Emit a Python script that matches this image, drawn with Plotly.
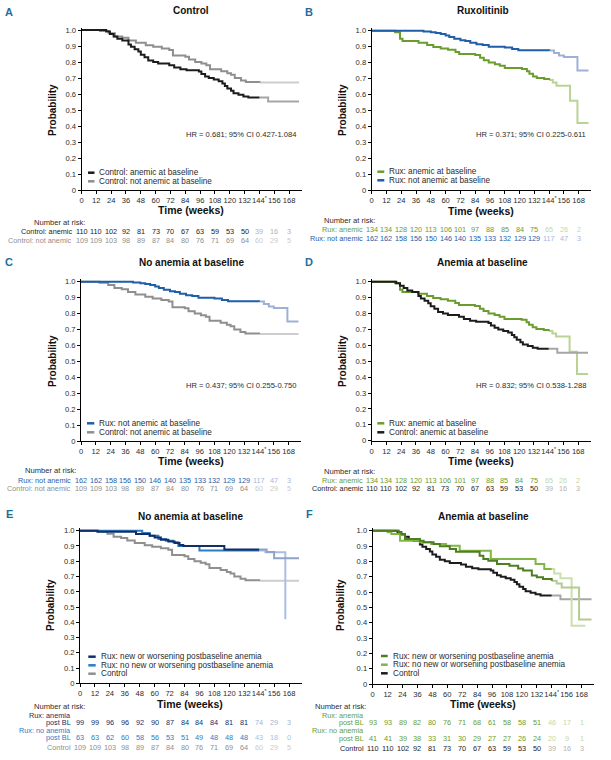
import plotly.graph_objects as go

W, H = 611, 760

# ---------------- data ----------------
tick_weeks = [0, 12, 24, 36, 48, 60, 72, 84, 96, 108, 120, 132, 144, 156, 168]
tick_week_labels = ["0", "12", "24", "36", "48", "60", "72", "84", "96", "108", "120",
                    "132", "144<sup>*</sup>", "156", "168"]
prob_ticks = [0, 0.1, 0.2, 0.3, 0.4, 0.5, 0.6, 0.7, 0.8, 0.9, 1.0]
prob_labels = ["0", "0.1", "0.2", "0.3", "0.4", "0.5", "0.6", "0.7", "0.8", "0.9", "1.0"]

# Control: anemic at baseline
ctrl_anemic_wk = [0, 20, 23, 26, 29, 33, 38, 40, 43, 46, 48, 51, 54, 58, 62, 71, 75, 80, 85, 95,
                  97, 100, 103, 107, 111, 114, 116, 118, 121, 123, 127, 131, 135, 144]
ctrl_anemic_p = [1.0, 0.99, 0.975, 0.96, 0.945, 0.935, 0.91, 0.895, 0.88, 0.865, 0.845, 0.83, 0.81,
                 0.80, 0.79, 0.78, 0.765, 0.755, 0.748, 0.74, 0.725, 0.71, 0.70, 0.69, 0.68, 0.665,
                 0.65, 0.635, 0.62, 0.605, 0.595, 0.585, 0.578, 0.578]
ctrl_anemic_late_wk = [144, 151, 176]
ctrl_anemic_late_p = [0.578, 0.553, 0.553]

# Control: not anemic at baseline
ctrl_not_wk = [0, 15, 22, 27, 33, 38, 44, 52, 58, 65, 71, 74, 84, 87, 92, 97, 101, 104, 113, 118,
               121, 124, 129, 133, 144]
ctrl_not_p = [1.0, 0.994, 0.98, 0.96, 0.952, 0.935, 0.92, 0.905, 0.895, 0.885, 0.875, 0.84, 0.833,
              0.815, 0.80, 0.79, 0.78, 0.755, 0.742, 0.73, 0.72, 0.70, 0.685, 0.675, 0.672]
ctrl_not_late_wk = [144, 176]
ctrl_not_late_p = [0.672, 0.672]

# Rux: anemic at baseline
rux_anemic_wk = [0, 19, 23, 25, 38, 45, 50, 56, 62, 68, 71, 84, 88, 91, 95, 100, 104, 108, 122,
                 126, 128, 131, 134, 140, 144]
rux_anemic_p = [1.0, 0.99, 0.95, 0.935, 0.925, 0.91, 0.897, 0.889, 0.88, 0.866, 0.853, 0.847, 0.83,
                0.815, 0.80, 0.79, 0.78, 0.766, 0.76, 0.745, 0.73, 0.713, 0.703, 0.697, 0.69]
rux_anemic_late_wk = [144, 147, 150, 161, 167, 176]
rux_anemic_late_p = [0.69, 0.675, 0.655, 0.56, 0.42, 0.42]

# Rux: not anemic at baseline
rux_not_wk = [0, 42, 48, 52, 56, 60, 63, 67, 72, 76, 80, 85, 90, 95, 108, 114, 119, 144]
rux_not_p = [1.0, 0.995, 0.99, 0.985, 0.98, 0.97, 0.96, 0.95, 0.94, 0.935, 0.925, 0.915, 0.91,
             0.90, 0.895, 0.885, 0.878, 0.875]
rux_not_late_wk = [144, 148, 152, 156, 167, 176]
rux_not_late_p = [0.875, 0.86, 0.845, 0.835, 0.75, 0.75]

# E: no anemia at baseline, split by postbaseline anemia
e_anemia_wk = [0, 14, 45, 56, 60, 65, 71, 76, 80, 83, 116, 144]
e_anemia_p = [1.0, 0.993, 0.978, 0.967, 0.956, 0.94, 0.93, 0.92, 0.906, 0.90, 0.876, 0.876]
e_anemia_late_wk = [144, 150, 156, 176]
e_anemia_late_p = [0.876, 0.86, 0.82, 0.82]

e_noanemia_wk = [0, 50, 56, 63, 69, 75, 79, 96, 144]
e_noanemia_p = [1.0, 0.985, 0.967, 0.945, 0.934, 0.924, 0.90, 0.87, 0.87]
e_noanemia_late_wk = [144, 149, 165]
e_noanemia_late_p = [0.87, 0.858, 0.42]

# F: anemia at baseline, split by postbaseline anemia
f_anemia_wk = [0, 21, 23, 26, 38, 41, 49, 54, 62, 67, 86, 89, 93, 100, 110, 117, 121, 128, 132,
               137, 144]
f_anemia_p = [1.0, 0.99, 0.978, 0.946, 0.935, 0.924, 0.913, 0.898, 0.88, 0.863, 0.837, 0.815,
              0.804, 0.783, 0.772, 0.754, 0.74, 0.707, 0.696, 0.685, 0.674]
f_anemia_late_wk = [144, 148, 152, 166, 176]
f_anemia_late_p = [0.674, 0.655, 0.63, 0.42, 0.42]

f_noanemia_wk = [0, 12, 15, 22, 38, 47, 59, 70, 89, 95, 129, 131, 138, 144]
f_noanemia_p = [1.0, 0.99, 0.978, 0.935, 0.925, 0.913, 0.902, 0.87, 0.87, 0.815, 0.815, 0.783,
                0.75, 0.75]
f_noanemia_late_wk = [144, 146, 151, 160, 171]
f_noanemia_late_p = [0.75, 0.72, 0.69, 0.38, 0.38]

# Numbers at risk
n_ctrl_anemic = [110, 110, 102, 92, 81, 73, 70, 67, 63, 59, 53, 50, 39, 16, 3]
n_ctrl_not = [109, 109, 103, 98, 89, 87, 84, 80, 76, 71, 69, 64, 60, 29, 5]
n_rux_anemic = [134, 134, 128, 120, 113, 106, 101, 97, 88, 85, 84, 75, 65, 26, 2]
n_rux_not = [162, 162, 158, 156, 150, 146, 140, 135, 133, 132, 129, 129, 117, 47, 3]
n_e_anemia = [99, 99, 96, 96, 92, 90, 87, 84, 84, 84, 81, 81, 74, 29, 3]
n_e_noanemia = [63, 63, 62, 60, 58, 56, 53, 51, 49, 48, 48, 48, 43, 18, 0]
n_f_anemia = [93, 93, 89, 82, 80, 76, 71, 68, 61, 58, 58, 51, 46, 17, 1]
n_f_noanemia = [41, 41, 39, 38, 33, 31, 30, 29, 27, 27, 26, 24, 20, 9, 1]

hr_A = "HR = 0.681; 95% CI 0.427-1.084"
hr_B = "HR = 0.371; 95% CI 0.225-0.611"
hr_C = "HR = 0.437; 95% CI 0.255-0.750"
hr_D = "HR = 0.832; 95% CI 0.538-1.288"

# ---------------- styles ----------------
BLACK, BLACK_L, BLACK_T = "#1c1c1c", "#a6a6a6", "#b3b3b3"
GRAY, GRAY_L, GRAY_T = "#8f8f8f", "#cdcdcd", "#cccccc"
GREEN, GREEN_L, GREEN_T = "#6b9c2f", "#b9d394", "#c3d9a3"
BLUE, BLUE_L, BLUE_T = "#1f5ea8", "#9fb0d6", "#a8b8dc"
NAVY, NAVY_L, NAVY_T = "#112f66", "#8fa3c8", "#a3b3d3"
BLUE2, BLUE2_L, BLUE2_T = "#2d7cc4", "#a9bfe2", "#a9c2e4"
DKGREEN, DKGREEN_L, DKGREEN_T = "#4d7e22", "#b3ca92", "#bcd29e"
LTGREEN, LTGREEN_L, LTGREEN_T = "#80b645", "#cadfae", "#cfe2b5"
LETTER = "#1f6e9c"
TXT = "#2b2b2b"
FONT = "Arial, Liberation Sans, sans-serif"
RISK_SIZE = 7.3

CTRL_AN = (ctrl_anemic_wk, ctrl_anemic_p, ctrl_anemic_late_wk, ctrl_anemic_late_p, BLACK, BLACK_L)
CTRL_NOT = (ctrl_not_wk, ctrl_not_p, ctrl_not_late_wk, ctrl_not_late_p, GRAY, GRAY_L)
RUX_AN = (rux_anemic_wk, rux_anemic_p, rux_anemic_late_wk, rux_anemic_late_p, GREEN, GREEN_L)
RUX_NOT = (rux_not_wk, rux_not_p, rux_not_late_wk, rux_not_late_p, BLUE, BLUE_L)
E_AN = (e_anemia_wk, e_anemia_p, e_anemia_late_wk, e_anemia_late_p, NAVY, NAVY_L)
E_NO = (e_noanemia_wk, e_noanemia_p, e_noanemia_late_wk, e_noanemia_late_p, BLUE2, BLUE2_L)
F_AN = (f_anemia_wk, f_anemia_p, f_anemia_late_wk, f_anemia_late_p, DKGREEN, DKGREEN_L)
F_NO = (f_noanemia_wk, f_noanemia_p, f_noanemia_late_wk, f_noanemia_late_p, LTGREEN, LTGREEN_L)

panels = [
    dict(letter="A", lpos=(9, 12), title="Control", tpos=(191, 11),
         x0=81.5, x1=301.5, ytop=30, ybot=190, prob=(52, 110), time=(191, 210),
         curves=[CTRL_NOT, CTRL_AN], hr=hr_A, hrpos=(298, 134),
         legend=[("Control: anemic at baseline", BLACK, 172.7),
                 ("Control: not anemic at baseline", GRAY, 181.3)],
         leg_x=(88, 94.5, 97), head=(32, 222.7), lab_r=74,
         rows=[dict(label=[("Control: anemic", 231.7)], n=n_ctrl_anemic, y=231.7, c=BLACK, cl=BLACK_T),
               dict(label=[("Control: not anemic", 240.7)], n=n_ctrl_not, y=240.7, c=GRAY, cl=GRAY_T)]),
    dict(letter="B", lpos=(309, 12), title="Ruxolitinib", tpos=(483, 11),
         x0=371.7, x1=591, ytop=30.7, ybot=190, prob=(342, 110), time=(481, 210.7),
         curves=[RUX_AN, RUX_NOT], hr=hr_B, hrpos=(588, 135),
         legend=[("Rux: anemic at baseline", GREEN, 171.7),
                 ("Rux: not anemic at baseline", BLUE, 180.3)],
         leg_x=(377.3, 384.3, 386.7), head=(322, 221), lab_r=364.5,
         rows=[dict(label=[("Rux: anemic", 230)], n=n_rux_anemic, y=230, c=GREEN, cl=GREEN_T),
               dict(label=[("Rux: not anemic", 239)], n=n_rux_not, y=239, c=BLUE, cl=BLUE_T)]),
    dict(letter="C", lpos=(9, 262), title="No anemia at baseline", tpos=(191.5, 262),
         x0=81, x1=301, ytop=281.7, ybot=441, prob=(52, 361), time=(191, 460.7),
         curves=[CTRL_NOT, RUX_NOT], hr=hr_C, hrpos=(298, 385),
         legend=[("Rux: not anemic at baseline", BLUE, 423.3),
                 ("Control: not anemic at baseline", GRAY, 432.3)],
         leg_x=(87, 94.3, 97.3), head=(23, 470), lab_r=73,
         rows=[dict(label=[("Rux: not anemic", 480)], n=n_rux_not, y=480, c=BLUE, cl=BLUE_T),
               dict(label=[("Control: not anemic", 488.5)], n=n_ctrl_not, y=488.5, c=GRAY, cl=GRAY_T)]),
    dict(letter="D", lpos=(309, 262), title="Anemia at baseline", tpos=(482, 262),
         x0=371.7, x1=590.5, ytop=281.7, ybot=440.7, prob=(342, 361), time=(481, 460.7),
         curves=[RUX_AN, CTRL_AN], hr=hr_D, hrpos=(588, 385),
         legend=[("Rux: anemic at baseline", GREEN, 423.3),
                 ("Control: anemic at baseline", BLACK, 432.3)],
         leg_x=(377.3, 384.3, 386.7), head=(322, 471), lab_r=364.5,
         rows=[dict(label=[("Rux: anemic", 480)], n=n_rux_anemic, y=480, c=GREEN, cl=GREEN_T),
               dict(label=[("Control: anemic", 489)], n=n_ctrl_anemic, y=489, c=BLACK, cl=BLACK_T)]),
    dict(letter="E", lpos=(9, 514), title="No anemia at baseline", tpos=(190, 516),
         x0=80, x1=301.5, ytop=530.7, ybot=683.3, prob=(50, 605), time=(190, 703.5),
         curves=[CTRL_NOT, E_NO, E_AN], hr=None,
         legend=[("Rux: new or worsening postbaseline anemia", NAVY, 656.7),
                 ("Rux: no new or worsening postbaseline anemia", BLUE2, 665.3),
                 ("Control", GRAY, 673.7)],
         leg_x=(88.3, 95.7, 98.5), head=(32, 706.7), lab_r=73,
         rows=[dict(label=[("Rux: anemia", 715.7), ("post BL", 722.8)], n=n_e_anemia, y=722.8, c=NAVY, cl=NAVY_T),
               dict(label=[("Rux: no anemia", 730.4), ("post BL", 737.8)], n=n_e_noanemia, y=737.8, c=BLUE2, cl=BLUE2_T),
               dict(label=[("Control", 747.3)], n=n_ctrl_not, y=747.3, c=GRAY, cl=GRAY_T)]),
    dict(letter="F", lpos=(309, 514), title="Anemia at baseline", tpos=(483, 516),
         x0=372.7, x1=594, ytop=530.7, ybot=684, prob=(340, 605), time=(483, 704),
         curves=[CTRL_AN, F_NO, F_AN], hr=None,
         legend=[("Rux: new or worsening postbaseline anemia", DKGREEN, 656),
                 ("Rux: no new or worsening postbaseline anemia", LTGREEN, 664.7),
                 ("Control", BLACK, 673.3)],
         leg_x=(381, 387.7, 391), head=(313, 706.7), lab_r=365.5,
         rows=[dict(label=[("Rux: anemia", 715.3), ("post BL", 722.8)], n=n_f_anemia, y=722.8, c=GREEN, cl=GREEN_T),
               dict(label=[("Rux: no anemia", 730.8), ("post BL", 738.3)], n=n_f_noanemia, y=738.3, c=GREEN, cl=GREEN_T),
               dict(label=[("Control", 748.3)], n=n_ctrl_anemic, y=748.3, c=BLACK, cl=BLACK_T)]),
]

YMAX = 1.015


def px(x):
    return x / W


def py(y):
    return 1 - y / H


fig = go.Figure()
annotations = []
shapes = []
layout_axes = {}

for i, pn in enumerate(panels, start=1):
    xa = "x" if i == 1 else f"x{i}"
    ya = "y" if i == 1 else f"y{i}"
    xkey = "xaxis" if i == 1 else f"xaxis{i}"
    ykey = "yaxis" if i == 1 else f"yaxis{i}"
    span = pn["ybot"] - pn["ytop"]
    top = pn["ytop"] - (YMAX - 1.0) * span
    layout_axes[xkey] = dict(
        domain=[px(pn["x0"]), px(pn["x1"])], range=[0, 178], anchor=ya,
        tickvals=tick_weeks, ticktext=tick_week_labels, ticks="outside", ticklen=3,
        tickwidth=1, tickcolor="black", showline=True, linecolor="black", linewidth=1,
        showgrid=False, zeroline=False, automargin=False, tickangle=0,
        tickfont=dict(family=FONT, size=7.6, color=TXT))
    layout_axes[ykey] = dict(
        domain=[py(pn["ybot"]), py(top)], range=[0, YMAX], anchor=xa,
        tickvals=prob_ticks, ticktext=prob_labels, ticks="outside", ticklen=3,
        tickwidth=1, tickcolor="black", showline=True, linecolor="black", linewidth=1,
        showgrid=False, zeroline=False, automargin=False,
        tickfont=dict(family=FONT, size=7.6, color=TXT))

    for (wk, p, lwk, lp, col, lcol) in pn["curves"]:
        fig.add_trace(go.Scatter(x=lwk, y=lp, mode="lines", xaxis=xa, yaxis=ya,
                                 line=dict(color=lcol, width=2, shape="hv"),
                                 hoverinfo="skip", showlegend=False))
        fig.add_trace(go.Scatter(x=wk, y=p, mode="lines", xaxis=xa, yaxis=ya,
                                 line=dict(color=col, width=2, shape="hv"),
                                 hoverinfo="skip", showlegend=False))

    # panel letter & title
    annotations.append(dict(text=f"<b>{pn['letter']}</b>", x=px(pn["lpos"][0]), y=py(pn["lpos"][1]),
                            xref="paper", yref="paper", xanchor="center", yanchor="middle",
                            showarrow=False, font=dict(family=FONT, size=11, color=LETTER)))
    annotations.append(dict(text=f"<b>{pn['title']}</b>", x=px(pn["tpos"][0]), y=py(pn["tpos"][1]),
                            xref="paper", yref="paper", xanchor="center", yanchor="middle",
                            showarrow=False, font=dict(family=FONT, size=10, color="#111")))
    annotations.append(dict(text="<b>Probability</b>", x=px(pn["prob"][0]), y=py(pn["prob"][1]),
                            xref="paper", yref="paper", xanchor="center", yanchor="middle",
                            textangle=-90, showarrow=False,
                            font=dict(family=FONT, size=10, color="#111")))
    annotations.append(dict(text="<b>Time (weeks)</b>", x=px(pn["time"][0]), y=py(pn["time"][1]),
                            xref="paper", yref="paper", xanchor="center", yanchor="middle",
                            showarrow=False, font=dict(family=FONT, size=10.5, color="#111")))
    if pn["hr"]:
        annotations.append(dict(text=pn["hr"], x=px(pn["hrpos"][0]), y=py(pn["hrpos"][1]),
                                xref="paper", yref="paper", xanchor="right", yanchor="middle",
                                showarrow=False, font=dict(family=FONT, size=7.6, color=TXT)))
    # legend
    lx0, lx1, ltx = pn["leg_x"]
    for (txt, col, yy) in pn["legend"]:
        shapes.append(dict(type="line", xref="paper", yref="paper", x0=px(lx0), x1=px(lx1),
                           y0=py(yy), y1=py(yy), line=dict(color=col, width=2.5)))
        annotations.append(dict(text=txt, x=px(ltx), y=py(yy), xref="paper", yref="paper",
                                xanchor="left", yanchor="middle", showarrow=False,
                                font=dict(family=FONT, size=8.2, color=TXT)))
    # number at risk
    annotations.append(dict(text="Number at risk:", x=px(pn["head"][0]), y=py(pn["head"][1]),
                            xref="paper", yref="paper", xanchor="left", yanchor="middle",
                            showarrow=False, font=dict(family=FONT, size=RISK_SIZE + 0.3, color=TXT)))
    for row in pn["rows"]:
        for (ltxt, ly) in row["label"]:
            annotations.append(dict(text=ltxt, x=px(pn["lab_r"]), y=py(ly), xref="paper",
                                    yref="paper", xanchor="right", yanchor="middle",
                                    showarrow=False,
                                    font=dict(family=FONT, size=RISK_SIZE, color=row["c"])))
        for wk, n in zip(tick_weeks, row["n"]):
            col = row["c"] if wk < 144 else row["cl"]
            annotations.append(dict(text=str(n), x=wk, y=py(row["y"]), xref=xa, yref="paper",
                                    xanchor="center", yanchor="middle", showarrow=False,
                                    font=dict(family=FONT, size=RISK_SIZE, color=col)))

fig.update_layout(width=W, height=H, margin=dict(l=0, r=0, t=0, b=0),
                  paper_bgcolor="white", plot_bgcolor="white", showlegend=False,
                  annotations=annotations, shapes=shapes, **layout_axes)

fig.write_html("out.html", config={"displayModeBar": False},
               post_script="document.body.style.margin='0';document.body.style.overflow='hidden';")
